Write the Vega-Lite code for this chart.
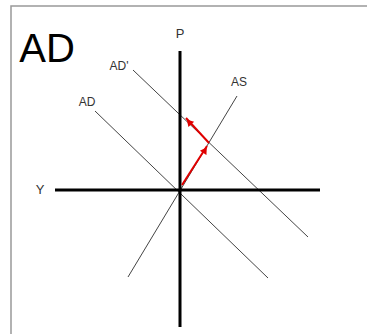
{
  "$schema": "https://vega.github.io/schema/vega-lite/v6.json",
  "width": 367,
  "height": 334,
  "autosize": {"type": "fit", "contains": "padding"},
  "padding": 0,
  "background": "white",
  "config": {"view": {"stroke": null}},
  "datasets": {
    "frame": [{"x": -169, "x2": 200, "y": 184, "y2": -200}],
    "segs": [
      {"kind": "axis", "x": -125, "y": 0, "x2": 140, "y2": 0},
      {"kind": "axis", "x": 0, "y": 139, "x2": 0, "y2": -137},
      {"kind": "curve", "x": -85, "y": 79, "x2": 88, "y2": -88},
      {"kind": "curve", "x": -47, "y": 120, "x2": 128, "y2": -47},
      {"kind": "curve", "x": -52, "y": -87, "x2": 57, "y2": 94},
      {"kind": "shift", "x": 2, "y": 5, "x2": 27, "y2": 44},
      {"kind": "shift", "x": 29, "y": 47, "x2": 6, "y2": 72}
    ],
    "heads": [
      {"x": 25, "y": 40, "angle": 33},
      {"x": 9, "y": 68, "angle": 317}
    ],
    "labels": [
      {"text": "AD", "x": -133, "y": 140, "size": 40, "tone": "big"},
      {"text": "AD'", "x": -61, "y": 124, "size": 12, "tone": "small"},
      {"text": "AD", "x": -93, "y": 88, "size": 12, "tone": "small"},
      {"text": "AS", "x": 59, "y": 108, "size": 12, "tone": "small"},
      {"text": "P", "x": 0, "y": 156, "size": 13, "tone": "small"},
      {"text": "Y", "x": -140, "y": 0, "size": 13, "tone": "small"}
    ]
  },
  "layer": [
    {
      "data": {"name": "frame"},
      "mark": {"type": "rect", "fill": null, "stroke": "#999999", "strokeWidth": 1.5, "clip": true},
      "encoding": {
        "x": {"field": "x", "type": "quantitative", "scale": {"domain": [-180, 187], "nice": false, "zero": false}, "axis": null},
        "x2": {"field": "x2"},
        "y": {"field": "y", "type": "quantitative", "scale": {"domain": [-144, 190], "nice": false, "zero": false}, "axis": null},
        "y2": {"field": "y2"}
      }
    },
    {
      "data": {"name": "segs"},
      "transform": [{"filter": "datum.kind === 'curve'"}],
      "mark": {"type": "rule", "color": "#444444", "strokeWidth": 1},
      "encoding": {
        "x": {"field": "x", "type": "quantitative", "scale": {"domain": [-180, 187], "nice": false, "zero": false}, "axis": null},
        "x2": {"field": "x2"},
        "y": {"field": "y", "type": "quantitative", "scale": {"domain": [-144, 190], "nice": false, "zero": false}, "axis": null},
        "y2": {"field": "y2"}
      }
    },
    {
      "data": {"name": "segs"},
      "transform": [{"filter": "datum.kind === 'axis'"}],
      "mark": {"type": "rule", "color": "#000000", "strokeWidth": 3},
      "encoding": {
        "x": {"field": "x", "type": "quantitative", "scale": {"domain": [-180, 187], "nice": false, "zero": false}, "axis": null},
        "x2": {"field": "x2"},
        "y": {"field": "y", "type": "quantitative", "scale": {"domain": [-144, 190], "nice": false, "zero": false}, "axis": null},
        "y2": {"field": "y2"}
      }
    },
    {
      "data": {"name": "segs"},
      "transform": [{"filter": "datum.kind === 'shift'"}],
      "mark": {"type": "rule", "color": "#e00000", "strokeWidth": 2},
      "encoding": {
        "x": {"field": "x", "type": "quantitative", "scale": {"domain": [-180, 187], "nice": false, "zero": false}, "axis": null},
        "x2": {"field": "x2"},
        "y": {"field": "y", "type": "quantitative", "scale": {"domain": [-144, 190], "nice": false, "zero": false}, "axis": null},
        "y2": {"field": "y2"}
      }
    },
    {
      "data": {"name": "heads"},
      "mark": {"type": "point", "shape": "triangle-up", "filled": true, "color": "#e00000", "size": 60, "opacity": 1},
      "encoding": {
        "x": {"field": "x", "type": "quantitative", "scale": {"domain": [-180, 187], "nice": false, "zero": false}, "axis": null},
        "y": {"field": "y", "type": "quantitative", "scale": {"domain": [-144, 190], "nice": false, "zero": false}, "axis": null},
        "angle": {"field": "angle", "type": "quantitative", "scale": null}
      }
    },
    {
      "data": {"name": "labels"},
      "mark": {"type": "text", "font": "Liberation Sans", "align": "center", "baseline": "middle"},
      "encoding": {
        "x": {"field": "x", "type": "quantitative", "scale": {"domain": [-180, 187], "nice": false, "zero": false}, "axis": null},
        "y": {"field": "y", "type": "quantitative", "scale": {"domain": [-144, 190], "nice": false, "zero": false}, "axis": null},
        "text": {"field": "text", "type": "nominal"},
        "size": {"field": "size", "type": "quantitative", "scale": null},
        "color": {"field": "tone", "type": "nominal", "scale": {"domain": ["big", "small"], "range": ["#000000", "#333333"]}, "legend": null}
      }
    }
  ]
}
